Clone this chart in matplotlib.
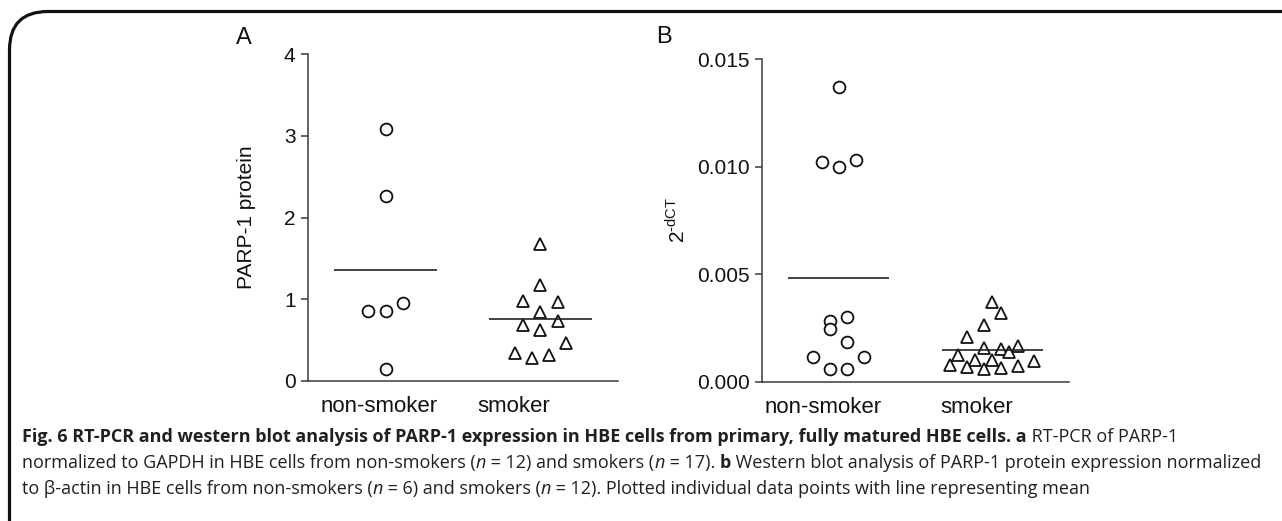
import numpy as np
import matplotlib
matplotlib.use("Agg")
import matplotlib.pyplot as plt
from matplotlib.patches import FancyBboxPatch

plt.rcParams['font.family'] = ['Liberation Sans', 'DejaVu Sans']
plt.rcParams['mathtext.fontset'] = 'custom'
plt.rcParams['mathtext.rm'] = 'Liberation Sans'

groups = ["non-smoker", "smoker"]

# panel A - PARP-1 protein (western blot)
a_nonsmoker = [3.09, 2.27, 0.86, 0.86, 0.95, 0.15]
a_smoker = [1.68, 1.175, 0.98, 0.97, 0.85, 0.69, 0.73, 0.63, 0.47, 0.32, 0.285, 0.34]
a_yticks = [0, 1, 2, 3, 4]

# panel B - 2^-dCT (RT-PCR)
b_nonsmoker = [0.01373, 0.01021, 0.0100, 0.01030, 0.00282, 0.00301, 0.00245,
               0.00186, 0.00115, 0.00116, 0.00060, 0.00060]
b_smoker = [0.00372, 0.00321, 0.00264, 0.00209, 0.00158, 0.00151, 0.00168,
            0.00140, 0.00123, 0.00101, 0.00101, 0.00078, 0.00067, 0.00058,
            0.00062, 0.00073, 0.00098]
b_yticks = [0.0, 0.005, 0.010, 0.015]

# horizontal column slots for the scatter (how the points were spread)
a_nonsmoker_slot = [0, 0, -2, 0, 2, 0]
a_smoker_slot = [0, 0, -2, 2, 0, -2, 2, 0, 3, 1, -1, -3]
b_nonsmoker_slot = [0, -2, 0, 2, -1, 1, -1, 1, -3, 3, -1, 1]
b_smoker_slot = [0, 1, -1, -3, -1, 1, 3, 2, -4, -2, 0, -5, -3, -1, 1, 3, 5]

W, H = 1282, 521
fig = plt.figure(figsize=(W / 100, H / 100), dpi=100)

INK = '#231f20'
AX = '#3a3a3a'
STEP = 0.055


def column_plot(ax, data, slots, markers, yticks, ylim, fmt, label_shift):
    for i, (vals, sl, m) in enumerate(zip(data, slots, markers)):
        x = i + 1 + np.array(sl) * STEP
        ax.plot(x, vals, linestyle='none', marker=m, markersize=8.5 if m == 'o' else 9,
                markerfacecolor='white', markeredgecolor='#111111', markeredgewidth=1.3)
        ax.hlines(np.mean(vals), i + 1 - 0.33, i + 1 + 0.33, color='#222222', lw=1.2)
    ax.set_xlim(0.5, 2.5)
    ax.set_ylim(*ylim)
    ax.set_yticks(yticks)
    ax.set_yticklabels([fmt.format(t) for t in yticks])
    # group labels sit a little left of the point columns
    ax.set_xticks([1 + label_shift[0], 2 + label_shift[1]])
    ax.set_xticklabels(groups)
    for s in ['top', 'right']:
        ax.spines[s].set_visible(False)
    for s in ['left', 'bottom']:
        ax.spines[s].set_color(AX)
        ax.spines[s].set_linewidth(1.1)
    ax.tick_params(axis='y', length=5, width=1.1, color=AX, labelsize=15, pad=4, labelcolor='#111111')
    ax.tick_params(axis='x', length=0, labelsize=16, pad=11, labelcolor='#111111')
    ax.patch.set_alpha(0)


axA = fig.add_axes([308 / W, 1 - 381 / H, 310 / W, (381 - 54.3) / H])
column_plot(axA, [a_nonsmoker, a_smoker], [a_nonsmoker_slot, a_smoker_slot],
            ['o', '^'], a_yticks, (0, 4), '{:g}', (-0.04, -0.17))
axA.set_ylabel('PARP-1 protein', fontsize=15, color='#111111', labelpad=20)

axB = fig.add_axes([762 / W, 1 - 381.7 / H, 307 / W, (381.7 - 59.3) / H])
column_plot(axB, [b_nonsmoker, b_smoker], [b_nonsmoker_slot, b_smoker_slot],
            ['o', '^'], b_yticks, (0, 0.015), '{:.3f}', (-0.1, -0.1))
axB.set_ylabel(r'$2^{\text{-dCT}}$', fontsize=15, color='#111111', labelpad=6)

fig.text(244 / W, 1 - 38 / H, 'A', fontsize=17, ha='center', va='center', color='#111111')
fig.text(664 / W, 1 - 37 / H, 'B', fontsize=17, ha='center', va='center', color='#111111')

# rounded frame, cut off at right and bottom
frame = FancyBboxPatch((9.5 / W, -40 / H), 1400 / W, (H - 11.5 + 40) / H,
                       boxstyle='round,pad=0,rounding_size=0.03',
                       transform=fig.transFigure, fill=False, ec='#111111', lw=2.3,
                       mutation_aspect=W / H)
fig.patches.append(frame)

# caption with mixed bold / italic pieces
renderer = fig.canvas.get_renderer()
CAP = 'Open Sans'
CAP_SIZE = 13.0


def text_width(s, weight, style):
    t1 = fig.text(0, 0, '|' + s + '|', fontsize=CAP_SIZE, family=CAP, fontweight=weight, fontstyle=style)
    t2 = fig.text(0, 0, '||', fontsize=CAP_SIZE, family=CAP, fontweight=weight, fontstyle=style)
    w = t1.get_window_extent(renderer).width - t2.get_window_extent(renderer).width
    t1.remove()
    t2.remove()
    return w


def rich_line(x_px, y_px, parts):
    x = x_px
    for s, weight, style in parts:
        fig.text(x / W, 1 - y_px / H, s, fontsize=CAP_SIZE, family=CAP, fontweight=weight,
                 fontstyle=style, color=INK, va='baseline', ha='left')
        x += text_width(s, weight, style)


B, R, I = ('bold', 'normal'), ('normal', 'normal'), ('normal', 'italic')
lines = [
    [('Fig. 6 RT-PCR and western blot analysis of PARP-1 expression in HBE cells from primary, '
      'fully matured HBE cells. a', *B), (' RT-PCR of PARP-1', *R)],
    [('normalized to GAPDH in HBE cells from non-smokers (', *R), ('n', *I), (' = 12) and smokers (', *R),
     ('n', *I), (' = 17). ', *R), ('b', *B),
     (' Western blot analysis of PARP-1 protein expression normalized', *R)],
    [('to \u03b2-actin in HBE cells from non-smokers (', *R), ('n', *I), (' = 6) and smokers (', *R),
     ('n', *I), (' = 12). Plotted individual data points with line representing mean', *R)],
]
for k, parts in enumerate(lines):
    rich_line(22, 442 + 26 * k, parts)

fig.savefig('out.png', dpi=100)
